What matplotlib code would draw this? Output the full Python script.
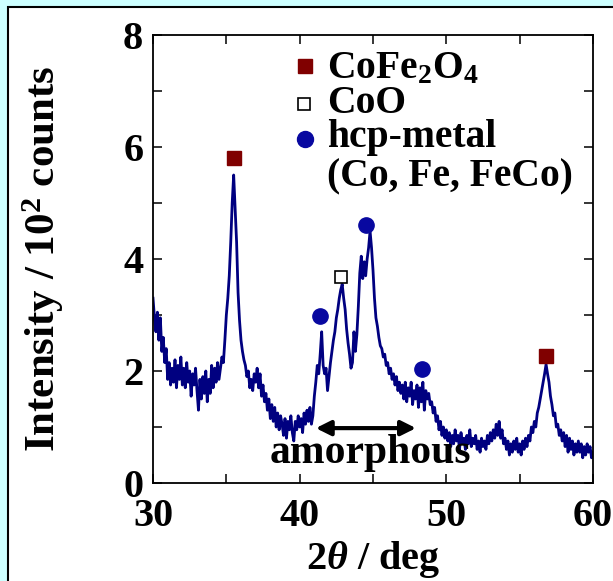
import numpy as np
import matplotlib
matplotlib.use("Agg")
import matplotlib.pyplot as plt
from matplotlib.patches import Rectangle
from matplotlib.ticker import MultipleLocator

plt.rcParams['font.family'] = ['Liberation Serif', 'DejaVu Serif']
plt.rcParams['font.weight'] = 'bold'
plt.rcParams['mathtext.fontset'] = 'custom'
plt.rcParams['mathtext.rm'] = 'Liberation Serif:bold'
plt.rcParams['mathtext.it'] = 'Liberation Serif:italic:bold'
plt.rcParams['mathtext.bf'] = 'Liberation Serif:bold'

# XRD pattern, 2theta from 30 to 60 deg in 0.1 deg steps (intensity / 10^2 counts)
two_theta = np.round(np.arange(300, 601) / 10.0, 1)
intensity = [
    3.30, 2.95, 2.70, 3.05, 2.55, 2.95, 2.35, 2.60, 2.15, 2.40,
    1.85, 2.15, 1.75, 2.05, 1.80, 2.20, 1.70, 2.10, 1.85, 2.25,
    1.75, 2.05, 1.70, 2.15, 1.80, 2.00, 1.55, 1.95, 1.75, 2.05,
    1.65, 1.30, 1.85, 1.50, 1.90, 1.60, 2.00, 1.45, 1.85, 1.60,
    2.10, 1.70, 2.05, 1.80, 2.15, 1.85, 2.05, 2.25, 2.15, 2.55,
    3.00, 3.30, 3.70, 4.30, 5.00, 5.50, 4.90, 4.30, 3.40, 2.90,
    2.55, 2.35, 2.20, 2.10, 1.90, 2.00, 1.70, 1.85, 1.65, 1.95,
    1.80, 2.05, 1.70, 1.95, 1.55, 1.75, 1.45, 1.60, 1.30, 1.50,
    1.15, 1.40, 1.10, 1.35, 1.00, 1.25, 0.95, 1.20, 1.05, 0.85,
    1.15, 0.80, 1.10, 0.95, 1.20, 0.90, 0.75, 1.10, 0.95, 1.20,
    1.00, 1.15, 0.90, 1.25, 1.05, 1.30, 1.10, 1.35, 1.05, 1.20,
    1.55, 1.80, 2.10, 1.95, 2.30, 2.70, 2.10, 1.95, 2.05, 1.65,
    1.90, 2.15, 2.35, 2.55, 2.70, 2.95, 3.10, 3.30, 3.45, 3.55,
    3.30, 3.10, 2.75, 2.50, 2.30, 2.05, 2.15, 2.70, 2.35, 2.65,
    3.15, 3.75, 4.05, 3.65, 3.95, 3.70, 4.00, 4.20, 4.50, 4.20,
    3.80, 3.30, 2.95, 2.80, 2.60, 2.45, 2.40, 2.25, 2.30, 2.10,
    2.15, 1.95, 2.05, 1.85, 1.95, 1.75, 1.90, 1.65, 1.80, 1.60,
    1.75, 1.50, 1.80, 1.45, 1.70, 1.55, 1.80, 1.40, 1.65, 1.50,
    1.75, 1.35, 1.70, 1.45, 1.80, 1.30, 1.65, 1.50, 1.60, 1.40,
    1.45, 1.25, 1.35, 1.10, 1.20, 0.95, 1.10, 0.85, 1.00, 0.80,
    0.95, 0.75, 0.90, 0.65, 0.85, 0.70, 0.95, 0.75, 0.85, 0.60,
    0.90, 0.70, 0.80, 0.60, 0.85, 0.70, 0.95, 0.65, 0.80, 0.70,
    0.85, 0.60, 0.75, 0.55, 0.80, 0.65, 0.75, 0.60, 0.85, 0.70,
    0.90, 0.75, 0.95, 0.80, 1.05, 0.85, 1.10, 0.80, 0.95, 0.70,
    0.80, 0.60, 0.75, 0.50, 0.70, 0.55, 0.75, 0.60, 0.80, 0.55,
    0.70, 0.50, 0.75, 0.60, 0.80, 0.65, 0.85, 0.75, 1.00, 0.90,
    1.10, 1.00, 1.25, 1.35, 1.50, 1.65, 1.80, 1.95, 2.12, 1.95,
    1.80, 1.55, 1.40, 1.20, 1.25, 1.00, 1.05, 0.85, 0.95, 0.75,
    0.90, 0.65, 0.85, 0.55, 0.80, 0.60, 0.75, 0.50, 0.70, 0.55,
    0.75, 0.55, 0.70, 0.45, 0.65, 0.50, 0.70, 0.55, 0.65, 0.45,
    0.55,
]

# phase markers
spinel_x = [35.55, 56.8]
spinel_y = [5.80, 2.27]
coo_x = [42.85]
coo_y = [3.68]
hcp_x = [41.42, 44.54, 48.33]
hcp_y = [2.98, 4.61, 2.04]

legend_labels = [r'CoFe$_2$O$_4$', 'CoO', 'hcp-metal', '(Co, Fe, FeCo)']

line_c = '#000080'
red_c = '#800000'
blue_c = '#0808A0'

fig = plt.figure(figsize=(6.13, 5.81), dpi=100, facecolor='#CCFFFF')
fig.patches.append(Rectangle((7.5 / 613, -0.1), 1.2, 0.1 + (581 - 6.5) / 581,
                             transform=fig.transFigure, facecolor='white',
                             edgecolor='black', linewidth=1.5, zorder=-10))

ax = fig.add_axes([153 / 613, 98 / 581, 440 / 613, 448 / 581])
ax.set_facecolor('white')

ax.plot(two_theta, intensity, color=line_c, lw=2.0)

ax.plot(spinel_x, spinel_y, 's', color=red_c, ms=9.5, ls='none')
ax.plot(coo_x, coo_y, 's', mfc='white', mec='black', mew=1.2, ms=8.5, ls='none')
ax.plot(hcp_x, hcp_y, 'o', color=blue_c, ms=11, ls='none')

# legend drawn by hand, like the original
ax.plot([40.36], [7.45], 's', color=red_c, ms=9.5)
ax.plot([40.30], [6.77], 's', mfc='white', mec='black', mew=1.2, ms=8.5)
ax.plot([40.36], [6.15], 'o', color=blue_c, ms=11.5)
for lab, yb in zip(legend_labels, [7.22, 6.6, 6.0, 5.3]):
    ax.text(41.86, yb, lab, fontsize=28.5, fontweight='bold', va='baseline', ha='left')

ax.annotate('', xy=(41.1, 0.98), xytext=(47.93, 0.98),
            arrowprops=dict(arrowstyle='<|-|>', color='black', lw=3,
                            mutation_scale=22, shrinkA=0, shrinkB=0))
ax.text(44.8, 0.36, 'amorphous', fontsize=30, fontweight='bold', ha='center', va='baseline')

ax.set_xlim(30, 60)
ax.set_ylim(0, 8)
ax.xaxis.set_major_locator(MultipleLocator(10))
ax.xaxis.set_minor_locator(MultipleLocator(5))
ax.yaxis.set_major_locator(MultipleLocator(2))
ax.yaxis.set_minor_locator(MultipleLocator(1))
ax.tick_params(which='both', direction='in', top=True, right=True,
               length=6.5, width=1.1, labelsize=29)
ax.tick_params(axis='x', pad=11)
ax.tick_params(axis='y', pad=7)
for s in ax.spines.values():
    s.set_linewidth(1.3)

ax.set_xlabel(r'2$\theta$ / deg', fontsize=29, fontweight='bold', labelpad=3)
ax.set_ylabel(r'Intensity / 10$^2$ counts', fontsize=31, fontweight='bold', labelpad=41)

fig.savefig('out.png', dpi=100, facecolor=fig.get_facecolor())
